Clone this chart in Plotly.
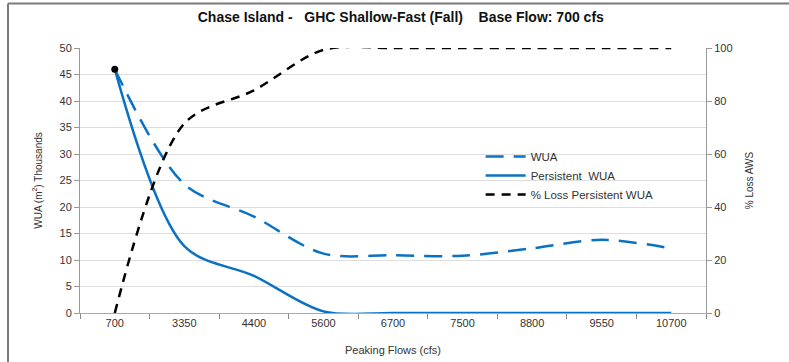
import plotly.graph_objects as go

flows = ["700", "3350", "4400", "5600", "6700", "7500", "8800", "9550", "10700"]
wua = [46, 24.3, 18.2, 11.2, 10.9, 10.8, 12.2, 13.8, 12.2]
persistent_wua = [46, 12.6, 7.0, 0.3, 0, 0, 0, 0, 0]
pct_loss = [0, 71.5, 84, 99.3, 100, 100, 100, 100, 100]

BLUE = '#0A72C4'
FONT = 'Liberation Sans, Arial, sans-serif'

fig = go.Figure()
fig.add_trace(go.Scatter(x=flows, y=wua, name='WUA', mode='lines',
                         line=dict(color=BLUE, width=2.5, dash='18px,10px', shape='spline', smoothing=0.9)))
fig.add_trace(go.Scatter(x=flows, y=persistent_wua, name='Persistent  WUA', mode='lines',
                         line=dict(color=BLUE, width=2.5, shape='spline', smoothing=0.9)))
fig.add_trace(go.Scatter(x=flows, y=pct_loss, name='% Loss Persistent WUA', mode='lines', yaxis='y2',
                         line=dict(color='black', width=2.5, dash='9px,7px', shape='spline', smoothing=0.9)))
# black dot on the first point
fig.add_trace(go.Scatter(x=flows[:1], y=wua[:1], mode='markers', showlegend=False,
                         marker=dict(color='black', size=7)))

fig.update_layout(
    width=789, height=362, paper_bgcolor='white', plot_bgcolor='white',
    font=dict(family=FONT, size=11, color='#333333'),
    margin=dict(l=80, r=83, t=48, b=49, autoexpand=False),
    title=dict(text='<b>Chase Island -   GHC Shallow-Fast (Fall)    Base Flow: 700 cfs</b>',
               x=0.508, xanchor='center', y=0.953, yanchor='middle',
               font=dict(family=FONT, size=14, color='#111111')),
    xaxis=dict(type='category', range=[-0.5, 8.5], tickson='boundaries', ticks='outside', ticklen=5,
               tickcolor='#888888', showline=True, linecolor='#aaaaaa', showgrid=False, automargin=False,
               title=dict(text='Peaking Flows (cfs)', standoff=18, font=dict(size=11))),
    yaxis=dict(range=[0, 50], dtick=5, showline=True, linecolor='#999999', ticks='outside', ticklen=5,
               tickcolor='#999999', gridcolor='#DDDDDD', gridwidth=1, zeroline=False, automargin=False,
               title=dict(text='WUA (m<sup>2</sup>) Thousands', standoff=15, font=dict(size=10))),
    yaxis2=dict(range=[0, 100], dtick=20, overlaying='y', side='right', showline=True, linecolor='#999999',
                ticks='outside', ticklen=5, tickcolor='#999999', showgrid=False, zeroline=False,
                automargin=False,
                title=dict(text='% Loss AWS', standoff=14, font=dict(size=10))),
    legend=dict(x=0.64, y=0.645, xanchor='left', yanchor='top', bgcolor='rgba(0,0,0,0)',
                font=dict(size=11.5), tracegroupgap=0, itemwidth=40),
    shapes=[
        dict(type='line', xref='paper', yref='paper', x0=-0.115, x1=1.16, y0=1.168, y1=1.168,
             line=dict(color='#7a7a7a', width=2)),
        dict(type='line', xref='paper', yref='paper', x0=-0.115, x1=-0.115, y0=1.168, y1=-0.25,
             line=dict(color='#7a7a7a', width=2)),
    ],
)

fig.write_html("out.html", config={'displayModeBar': False},
               post_script="document.body.style.margin='0';")
